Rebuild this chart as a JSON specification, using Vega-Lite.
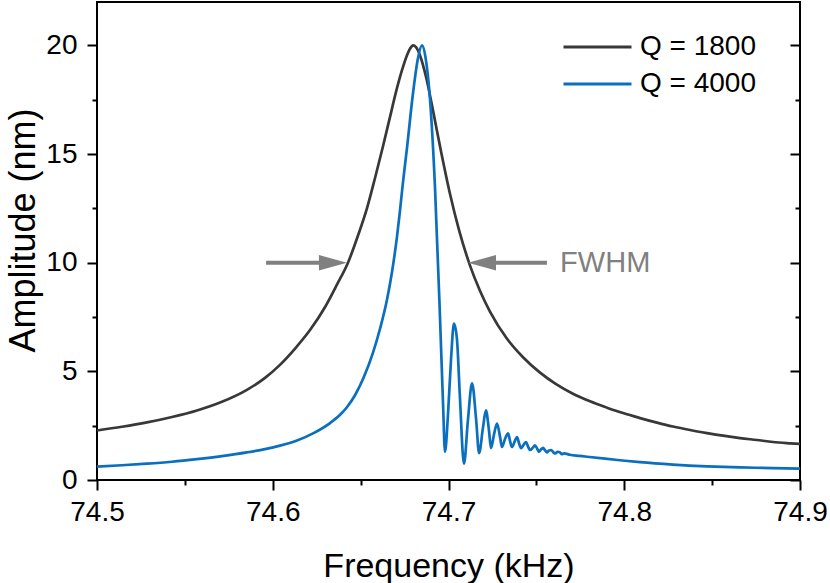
{
  "$schema": "https://vega.github.io/schema/vega-lite/v6.json",
  "width": 703,
  "height": 478,
  "autosize": {"type": "none"},
  "padding": {"left": 97, "top": 2, "right": 30, "bottom": 103},
  "background": "white",
  "config": {
    "view": {"stroke": "black", "strokeWidth": 2},
    "font": "Liberation Sans",
    "axis": {
      "domain": false,
      "grid": false,
      "tickColor": "black",
      "tickWidth": 2,
      "labelColor": "black",
      "labelFont": "Liberation Sans",
      "labelFontSize": 28,
      "titleFont": "Liberation Sans",
      "titleFontSize": 34,
      "titleFontWeight": "normal",
      "titleColor": "black"
    }
  },
  "datasets": {
    "curves": [
      {"f": 74.5, "amp": 2.28, "series": "Q = 1800"},
      {"f": 74.5142, "amp": 2.45, "series": "Q = 1800"},
      {"f": 74.5284, "amp": 2.65, "series": "Q = 1800"},
      {"f": 74.5427, "amp": 2.9, "series": "Q = 1800"},
      {"f": 74.5569, "amp": 3.2, "series": "Q = 1800"},
      {"f": 74.5711, "amp": 3.6, "series": "Q = 1800"},
      {"f": 74.5853, "amp": 4.15, "series": "Q = 1800"},
      {"f": 74.5956, "amp": 4.7, "series": "Q = 1800"},
      {"f": 74.6041, "amp": 5.3, "series": "Q = 1800"},
      {"f": 74.6127, "amp": 6.05, "series": "Q = 1800"},
      {"f": 74.6212, "amp": 6.9, "series": "Q = 1800"},
      {"f": 74.6297, "amp": 7.95, "series": "Q = 1800"},
      {"f": 74.6366, "amp": 9.0, "series": "Q = 1800"},
      {"f": 74.6428, "amp": 10.0, "series": "Q = 1800"},
      {"f": 74.6485, "amp": 11.25, "series": "Q = 1800"},
      {"f": 74.6536, "amp": 12.5, "series": "Q = 1800"},
      {"f": 74.6582, "amp": 13.9, "series": "Q = 1800"},
      {"f": 74.6627, "amp": 15.35, "series": "Q = 1800"},
      {"f": 74.6667, "amp": 16.7, "series": "Q = 1800"},
      {"f": 74.6701, "amp": 17.85, "series": "Q = 1800"},
      {"f": 74.6735, "amp": 18.85, "series": "Q = 1800"},
      {"f": 74.6764, "amp": 19.55, "series": "Q = 1800"},
      {"f": 74.6787, "amp": 19.92, "series": "Q = 1800"},
      {"f": 74.6798, "amp": 20.0, "series": "Q = 1800"},
      {"f": 74.6815, "amp": 19.92, "series": "Q = 1800"},
      {"f": 74.6838, "amp": 19.54, "series": "Q = 1800"},
      {"f": 74.6872, "amp": 18.56, "series": "Q = 1800"},
      {"f": 74.6912, "amp": 17.0, "series": "Q = 1800"},
      {"f": 74.6957, "amp": 15.14, "series": "Q = 1800"},
      {"f": 74.7009, "amp": 13.15, "series": "Q = 1800"},
      {"f": 74.706, "amp": 11.5, "series": "Q = 1800"},
      {"f": 74.7122, "amp": 9.88, "series": "Q = 1800"},
      {"f": 74.7179, "amp": 8.71, "series": "Q = 1800"},
      {"f": 74.7236, "amp": 7.75, "series": "Q = 1800"},
      {"f": 74.7333, "amp": 6.5, "series": "Q = 1800"},
      {"f": 74.7424, "amp": 5.65, "series": "Q = 1800"},
      {"f": 74.7521, "amp": 4.94, "series": "Q = 1800"},
      {"f": 74.7612, "amp": 4.41, "series": "Q = 1800"},
      {"f": 74.7708, "amp": 3.97, "series": "Q = 1800"},
      {"f": 74.7805, "amp": 3.62, "series": "Q = 1800"},
      {"f": 74.7902, "amp": 3.33, "series": "Q = 1800"},
      {"f": 74.7993, "amp": 3.08, "series": "Q = 1800"},
      {"f": 74.809, "amp": 2.85, "series": "Q = 1800"},
      {"f": 74.8186, "amp": 2.64, "series": "Q = 1800"},
      {"f": 74.8277, "amp": 2.46, "series": "Q = 1800"},
      {"f": 74.8374, "amp": 2.3, "series": "Q = 1800"},
      {"f": 74.8471, "amp": 2.16, "series": "Q = 1800"},
      {"f": 74.8562, "amp": 2.04, "series": "Q = 1800"},
      {"f": 74.8659, "amp": 1.93, "series": "Q = 1800"},
      {"f": 74.8755, "amp": 1.84, "series": "Q = 1800"},
      {"f": 74.8846, "amp": 1.75, "series": "Q = 1800"},
      {"f": 74.8943, "amp": 1.69, "series": "Q = 1800"},
      {"f": 74.9, "amp": 1.66, "series": "Q = 1800"},
      {"f": 74.5, "amp": 0.62, "series": "Q = 4000"},
      {"f": 74.5142, "amp": 0.68, "series": "Q = 4000"},
      {"f": 74.5284, "amp": 0.75, "series": "Q = 4000"},
      {"f": 74.5427, "amp": 0.84, "series": "Q = 4000"},
      {"f": 74.5569, "amp": 0.96, "series": "Q = 4000"},
      {"f": 74.5711, "amp": 1.1, "series": "Q = 4000"},
      {"f": 74.5853, "amp": 1.27, "series": "Q = 4000"},
      {"f": 74.5956, "amp": 1.42, "series": "Q = 4000"},
      {"f": 74.6041, "amp": 1.58, "series": "Q = 4000"},
      {"f": 74.6138, "amp": 1.82, "series": "Q = 4000"},
      {"f": 74.6235, "amp": 2.17, "series": "Q = 4000"},
      {"f": 74.6326, "amp": 2.62, "series": "Q = 4000"},
      {"f": 74.6383, "amp": 3.0, "series": "Q = 4000"},
      {"f": 74.6422, "amp": 3.35, "series": "Q = 4000"},
      {"f": 74.6468, "amp": 3.9, "series": "Q = 4000"},
      {"f": 74.6519, "amp": 4.75, "series": "Q = 4000"},
      {"f": 74.657, "amp": 5.85, "series": "Q = 4000"},
      {"f": 74.661, "amp": 6.95, "series": "Q = 4000"},
      {"f": 74.665, "amp": 8.3, "series": "Q = 4000"},
      {"f": 74.6679, "amp": 9.6, "series": "Q = 4000"},
      {"f": 74.6707, "amp": 11.2, "series": "Q = 4000"},
      {"f": 74.6724, "amp": 12.4, "series": "Q = 4000"},
      {"f": 74.6741, "amp": 13.7, "series": "Q = 4000"},
      {"f": 74.6764, "amp": 15.3, "series": "Q = 4000"},
      {"f": 74.6798, "amp": 17.8, "series": "Q = 4000"},
      {"f": 74.6826, "amp": 19.4, "series": "Q = 4000"},
      {"f": 74.6849, "amp": 20.0, "series": "Q = 4000"},
      {"f": 74.6872, "amp": 19.3, "series": "Q = 4000"},
      {"f": 74.6895, "amp": 17.5, "series": "Q = 4000"},
      {"f": 74.6923, "amp": 13.5, "series": "Q = 4000"},
      {"f": 74.6952, "amp": 7.4, "series": "Q = 4000"},
      {"f": 74.6969, "amp": 3.5, "series": "Q = 4000"},
      {"f": 74.698, "amp": 1.3, "series": "Q = 4000"},
      {"f": 74.6997, "amp": 3.0, "series": "Q = 4000"},
      {"f": 74.7014, "amp": 5.5, "series": "Q = 4000"},
      {"f": 74.7031, "amp": 7.2, "series": "Q = 4000"},
      {"f": 74.7048, "amp": 6.5, "series": "Q = 4000"},
      {"f": 74.7065, "amp": 3.8, "series": "Q = 4000"},
      {"f": 74.7088, "amp": 0.75, "series": "Q = 4000"},
      {"f": 74.7111, "amp": 2.8, "series": "Q = 4000"},
      {"f": 74.7134, "amp": 4.45, "series": "Q = 4000"},
      {"f": 74.7157, "amp": 2.8, "series": "Q = 4000"},
      {"f": 74.7174, "amp": 1.24, "series": "Q = 4000"},
      {"f": 74.7196, "amp": 2.4, "series": "Q = 4000"},
      {"f": 74.7213, "amp": 3.2, "series": "Q = 4000"},
      {"f": 74.723, "amp": 2.3, "series": "Q = 4000"},
      {"f": 74.7242, "amp": 1.47, "series": "Q = 4000"},
      {"f": 74.7259, "amp": 2.1, "series": "Q = 4000"},
      {"f": 74.7276, "amp": 2.6, "series": "Q = 4000"},
      {"f": 74.7293, "amp": 2.0, "series": "Q = 4000"},
      {"f": 74.7304, "amp": 1.52, "series": "Q = 4000"},
      {"f": 74.7322, "amp": 1.9, "series": "Q = 4000"},
      {"f": 74.7339, "amp": 2.15, "series": "Q = 4000"},
      {"f": 74.735, "amp": 1.8, "series": "Q = 4000"},
      {"f": 74.7361, "amp": 1.52, "series": "Q = 4000"},
      {"f": 74.7378, "amp": 1.8, "series": "Q = 4000"},
      {"f": 74.739, "amp": 1.98, "series": "Q = 4000"},
      {"f": 74.7401, "amp": 1.7, "series": "Q = 4000"},
      {"f": 74.7413, "amp": 1.47, "series": "Q = 4000"},
      {"f": 74.743, "amp": 1.65, "series": "Q = 4000"},
      {"f": 74.7441, "amp": 1.75, "series": "Q = 4000"},
      {"f": 74.7452, "amp": 1.55, "series": "Q = 4000"},
      {"f": 74.7464, "amp": 1.38, "series": "Q = 4000"},
      {"f": 74.7481, "amp": 1.5, "series": "Q = 4000"},
      {"f": 74.7492, "amp": 1.6, "series": "Q = 4000"},
      {"f": 74.7504, "amp": 1.45, "series": "Q = 4000"},
      {"f": 74.7515, "amp": 1.3, "series": "Q = 4000"},
      {"f": 74.7526, "amp": 1.4, "series": "Q = 4000"},
      {"f": 74.7538, "amp": 1.48, "series": "Q = 4000"},
      {"f": 74.7549, "amp": 1.37, "series": "Q = 4000"},
      {"f": 74.756, "amp": 1.27, "series": "Q = 4000"},
      {"f": 74.7572, "amp": 1.36, "series": "Q = 4000"},
      {"f": 74.7584, "amp": 1.38, "series": "Q = 4000"},
      {"f": 74.7597, "amp": 1.27, "series": "Q = 4000"},
      {"f": 74.7608, "amp": 1.22, "series": "Q = 4000"},
      {"f": 74.762, "amp": 1.3, "series": "Q = 4000"},
      {"f": 74.7633, "amp": 1.28, "series": "Q = 4000"},
      {"f": 74.7645, "amp": 1.19, "series": "Q = 4000"},
      {"f": 74.7658, "amp": 1.23, "series": "Q = 4000"},
      {"f": 74.7691, "amp": 1.16, "series": "Q = 4000"},
      {"f": 74.7745, "amp": 1.11, "series": "Q = 4000"},
      {"f": 74.7788, "amp": 1.07, "series": "Q = 4000"},
      {"f": 74.7891, "amp": 0.98, "series": "Q = 4000"},
      {"f": 74.7976, "amp": 0.91, "series": "Q = 4000"},
      {"f": 74.809, "amp": 0.82, "series": "Q = 4000"},
      {"f": 74.8277, "amp": 0.71, "series": "Q = 4000"},
      {"f": 74.8471, "amp": 0.63, "series": "Q = 4000"},
      {"f": 74.8659, "amp": 0.58, "series": "Q = 4000"},
      {"f": 74.8846, "amp": 0.55, "series": "Q = 4000"},
      {"f": 74.9, "amp": 0.52, "series": "Q = 4000"}
    ],
    "shafts": [
      {"f1": 74.5962, "f2": 74.6326, "level": 10},
      {"f1": 74.7236, "f2": 74.756, "level": 10}
    ],
    "heads": [
      {"tip": 74.6422, "level": 10, "dir": "right"},
      {"tip": 74.7111, "level": 10, "dir": "left"}
    ],
    "labels": [
      {"f": 74.7635, "level": 10, "label": "FWHM"}
    ]
  },
  "layer": [
    {
      "data": {"name": "curves"},
      "mark": {"type": "line", "strokeWidth": 2.7, "interpolate": "monotone"},
      "encoding": {
        "x": {
          "field": "f", "type": "quantitative",
          "scale": {"domain": [74.5, 74.9], "nice": false, "zero": false},
          "axis": {"orient": "bottom", "values": [74.5, 74.6, 74.7, 74.8, 74.9], "format": ".1f", "tickSize": 10, "labelPadding": 8, "title": "Frequency (kHz)", "titleBaseline": "alphabetic", "titleY": 96, "labelFlush": false, "labelOverlap": false}
        },
        "y": {
          "field": "amp", "type": "quantitative",
          "scale": {"domain": [0, 22], "nice": false},
          "axis": {"orient": "left", "values": [0, 5, 10, 15, 20], "tickSize": 10, "labelPadding": 10, "title": "Amplitude (nm)", "titleBaseline": "alphabetic", "titleX": -63, "titleY": 228, "titleAngle": -90, "titleAlign": "center", "titleFontSize": 36}
        },
        "color": {
          "field": "series", "type": "nominal",
          "scale": {"domain": ["Q = 1800", "Q = 4000"], "range": ["#383838", "#0a6fbf"]},
          "legend": {
            "title": null,
            "orient": "none",
            "legendX": 465,
            "legendY": 28,
            "padding": 0,
            "symbolType": "stroke",
            "symbolSize": 4624,
            "symbolStrokeWidth": 3,
            "labelFont": "Liberation Sans",
            "labelFontSize": 28,
            "labelColor": "black",
            "labelOffset": 7,
            "clipHeight": 34,
            "rowPadding": 3,
            "direction": "vertical"
          }
        }
      }
    },
    {
      "data": {"name": "shafts"},
      "mark": {"type": "rule", "color": "#808080", "strokeWidth": 4},
      "encoding": {
        "x": {"field": "f1", "type": "quantitative", "axis": {"orient": "bottom", "values": [74.55, 74.65, 74.75, 74.85], "tickSize": 5, "labels": false, "title": null}},
        "x2": {"field": "f2"},
        "y": {"field": "level", "type": "quantitative", "axis": {"orient": "left", "values": [2.5, 7.5, 12.5, 17.5], "tickSize": 5, "labels": false, "title": null}}
      }
    },
    {
      "data": {"name": "heads"},
      "mark": {"type": "point", "filled": true, "size": 784, "opacity": 1, "color": "#808080", "strokeWidth": 0},
      "encoding": {
        "x": {"field": "tip", "type": "quantitative", "axis": null},
        "y": {"field": "level", "type": "quantitative", "axis": {"orient": "right", "values": [0, 5, 10, 15, 20], "tickSize": -10, "labels": false, "title": null}},
        "shape": {"field": "dir", "type": "nominal", "scale": {"domain": ["right", "left"], "range": ["M0,0 L-2,-0.55 L-2,0.55 Z", "M0,0 L2,-0.55 L2,0.55 Z"]}, "legend": null}
      }
    },
    {
      "data": {"name": "labels"},
      "mark": {"type": "text", "align": "left", "baseline": "middle", "fontSize": 29, "color": "#808080", "font": "Liberation Sans"},
      "encoding": {
        "x": {"field": "f", "type": "quantitative", "axis": null},
        "y": {"field": "level", "type": "quantitative", "axis": {"orient": "right", "values": [2.5, 7.5, 12.5, 17.5], "tickSize": -5, "labels": false, "title": null}},
        "text": {"field": "label"}
      }
    }
  ],
  "resolve": {"axis": {"x": "independent", "y": "independent"}}
}
